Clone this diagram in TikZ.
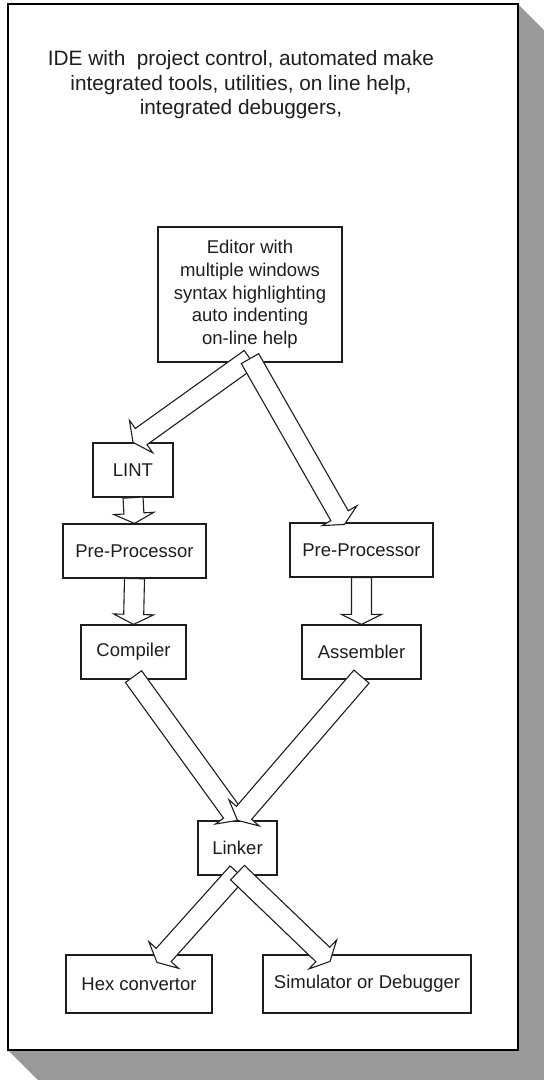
\documentclass[tikz,border=0pt]{standalone}
\usepackage{fontspec}
\setmainfont{Liberation Sans}
\usetikzlibrary{calc}
\definecolor{panelside}{HTML}{999999}
\definecolor{ink}{HTML}{1E1E1E}

\tikzset{
  frame/.style={draw=black, line width=1.5pt, fill=white},
  box/.style={draw=ink, line width=1.2pt, fill=white, inner sep=0pt, align=center,
              text=ink, font=\fontsize{18.5}{22.7}\selectfont},
  heading/.style={align=center, text=ink, inner sep=0pt, font=\fontsize{20.8}{24.5}\selectfont},
  blockarr/.style={draw=ink, line width=1.1pt, fill=white, line join=miter},
}

% Hollow block arrow: name, tail point, tip point
% shaft 20pt wide, head 40pt wide and 10pt long
\newcommand\blockarrow[3]{%
  \coordinate (#1t) at (#2);
  \coordinate (#1p) at (#3);
  \coordinate (#1h) at ($(#1p)!10pt!(#1t)$);
  \draw[blockarr] ($(#1t)!10pt!90:(#1p)$) -- ($(#1h)!10pt!-90:(#1t)$)
     -- ($(#1h)!20pt!-90:(#1t)$) -- (#1p) -- ($(#1h)!20pt!90:(#1t)$)
     -- ($(#1h)!10pt!90:(#1t)$) -- ($(#1t)!10pt!-90:(#1p)$) -- cycle;
}

\begin{document}
\begin{tikzpicture}[x=1pt, y=-1pt]
  \useasboundingbox (0,0) rectangle (544,1080);
  \clip (0,0) rectangle (544,1080);
  \fill[white] (0,0) rectangle (544,1080);

  % raised panel with its shaded sides
  \fill[panelside] (518,4) -- (568,54) -- (568,1100) -- (58,1100) -- (8,1050) -- (518,1050) -- cycle;
  \draw[frame] (8,4) rectangle (518,1050);

  \node[heading] (title) at (241,85)
    {IDE with\ \ project control, automated make\\
     integrated tools, utilities, on line help,\\
     integrated debuggers,};

  % tool boxes
  \node[box, minimum width=184pt, minimum height=135pt] (editor) at (250,294.5)
    {Editor with\\multiple windows\\syntax highlighting\\auto indenting\\on-line help};
  \node[box, minimum width=80pt,  minimum height=54pt] (lint)      at (133,470)   {LINT};
  \node[box, minimum width=143pt, minimum height=54pt] (prel)      at (134.5,551) {Pre-Processor};
  \node[box, minimum width=143pt, minimum height=54pt] (prer)      at (361.5,550) {Pre-Processor};
  \node[box, minimum width=105pt, minimum height=54pt] (compiler)  at (133.5,652) {Compiler};
  \node[box, minimum width=119pt, minimum height=54pt] (assembler) at (361.5,652) {Assembler};
  \node[box, minimum width=79pt,  minimum height=54pt] (linker)    at (237.5,848) {Linker};
  \node[box, minimum width=146pt, minimum height=58pt] (hex)       at (139,984)   {Hex convertor};
  \node[box, minimum width=208pt, minimum height=58pt] (sim)       at (367,984)   {Simulator or Debugger};

  % tool chain
  \blockarrow{a1}{$(editor.south)+(0,-4)$}{lint.north}
  \blockarrow{a2}{$(editor.south)+(0,-4)$}{$(prer.north)+(-17,2)$}
  \blockarrow{a3}{lint.south}{prel.north}
  \blockarrow{a4}{prel.south}{compiler.north}
  \blockarrow{a5}{prer.south}{assembler.north}
  \blockarrow{a6}{$(compiler.south)+(0,-3)$}{linker.north}
  \blockarrow{a7}{$(assembler.south)+(0,-3)$}{linker.north}
  \blockarrow{a8}{$(linker.south)+(0,-3)$}{$(hex.north)+(18,8)$}
  \blockarrow{a9}{$(linker.south)+(0,-3)$}{$(sim.north)+(-37,7)$}
\end{tikzpicture}
\end{document}
